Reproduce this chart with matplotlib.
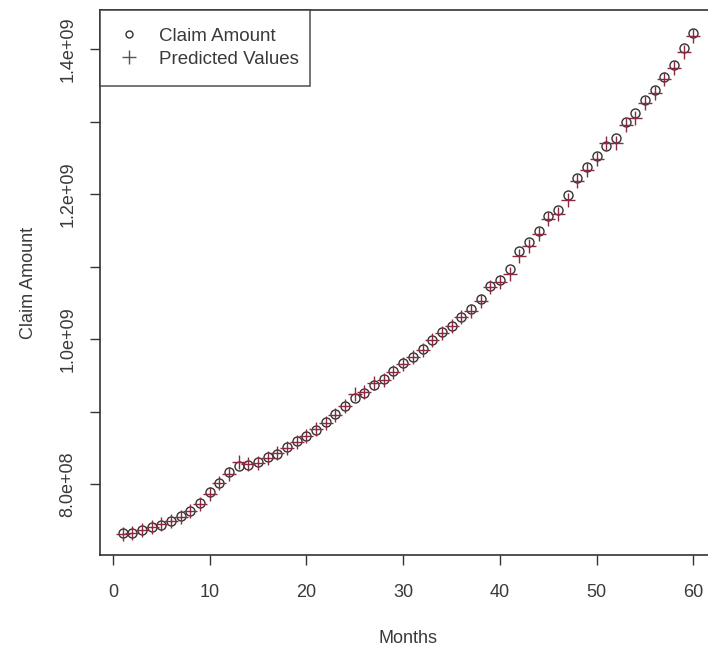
import matplotlib
matplotlib.use("Agg")
import matplotlib.pyplot as plt
import numpy as np

months = list(range(1, 61))

claim_amount = [
    7.32e8, 7.33e8, 7.37e8, 7.41e8, 7.44e8, 7.49e8, 7.56e8, 7.63e8, 7.74e8, 7.89e8,
    8.01e8, 8.16e8, 8.25e8, 8.26e8, 8.30e8, 8.37e8, 8.42e8, 8.51e8, 8.59e8, 8.66e8,
    8.75e8, 8.85e8, 8.96e8, 9.07e8, 9.18e8, 9.26e8, 9.37e8, 9.45e8, 9.56e8, 9.67e8,
    9.75e8, 9.86e8, 9.99e8, 1.010e9, 1.018e9, 1.030e9, 1.041e9, 1.055e9, 1.073e9, 1.082e9,
    1.096e9, 1.121e9, 1.134e9, 1.149e9, 1.170e9, 1.178e9, 1.199e9, 1.222e9, 1.237e9, 1.252e9,
    1.266e9, 1.277e9, 1.299e9, 1.312e9, 1.330e9, 1.344e9, 1.362e9, 1.378e9, 1.401e9, 1.422e9,
]

predicted = [
    7.31e8, 7.33e8, 7.36e8, 7.41e8, 7.45e8, 7.49e8, 7.54e8, 7.63e8, 7.73e8, 7.86e8,
    8.01e8, 8.14e8, 8.30e8, 8.27e8, 8.29e8, 8.36e8, 8.43e8, 8.50e8, 8.58e8, 8.66e8,
    8.76e8, 8.84e8, 8.95e8, 9.07e8, 9.24e8, 9.27e8, 9.40e8, 9.44e8, 9.55e8, 9.66e8,
    9.75e8, 9.85e8, 9.98e8, 1.009e9, 1.018e9, 1.030e9, 1.039e9, 1.052e9, 1.072e9, 1.079e9,
    1.090e9, 1.115e9, 1.129e9, 1.145e9, 1.166e9, 1.172e9, 1.192e9, 1.218e9, 1.233e9, 1.248e9,
    1.270e9, 1.271e9, 1.296e9, 1.305e9, 1.326e9, 1.340e9, 1.359e9, 1.374e9, 1.396e9, 1.418e9,
]

plt.rcParams["font.family"] = ["Liberation Sans", "DejaVu Sans"]
text_color = "#3a3a3a"

fig = plt.figure(figsize=(7.08, 6.5), dpi=100)
ax = fig.add_axes([100 / 708, 95 / 650, 616 / 708, 545 / 650])

ax.plot(months, claim_amount, linestyle="none", marker="o", markersize=6.5,
        markerfacecolor="none", markeredgecolor="#333333", markeredgewidth=1.0,
        label="Claim Amount")
ax.plot(months, predicted, linestyle="none", marker="+", markersize=10,
        color="#8a2a40", markeredgewidth=1.0, label="Predicted Values")

ax.set_xlim(-1.36, 62.36)
ax.set_ylim(7.02e8, 1.454e9)

ax.set_xticks([0, 10, 20, 30, 40, 50, 60])
ax.set_yticks([8.0e8, 9.0e8, 1.0e9, 1.1e9, 1.2e9, 1.3e9, 1.4e9])
ax.set_yticklabels(["8.0e+08", "", "1.0e+09", "", "1.2e+09", "", "1.4e+09"],
                   rotation=90, va="center")

ax.tick_params(axis="both", direction="out", length=7, width=1.0,
               colors="#333333", labelcolor=text_color, labelsize=13)
ax.tick_params(axis="x", pad=14)
ax.tick_params(axis="y", pad=10)

for s in ax.spines.values():
    s.set_color("#333333")
    s.set_linewidth(1.2)

ax.set_xlabel("Months", fontsize=13, color=text_color, labelpad=21)
ax.set_ylabel("Claim Amount", fontsize=13, color=text_color, labelpad=16)

leg = ax.legend(loc="upper left", bbox_to_anchor=(0, 1, 210 / 616, 0),
                mode="expand", fontsize=13.5, frameon=True, fancybox=False,
                borderpad=0.95, handletextpad=1.0, labelspacing=0.3,
                handlelength=1.2, borderaxespad=0)
leg.get_frame().set_edgecolor("#333333")
leg.get_frame().set_linewidth(1.2)
for t in leg.get_texts():
    t.set_color(text_color)
handles = leg.legend_handles
handles[0].set_markersize(5)
handles[1].set_color("#555555")
handles[1].set_markersize(10)

fig.savefig("out.png", dpi=100, facecolor="white")
